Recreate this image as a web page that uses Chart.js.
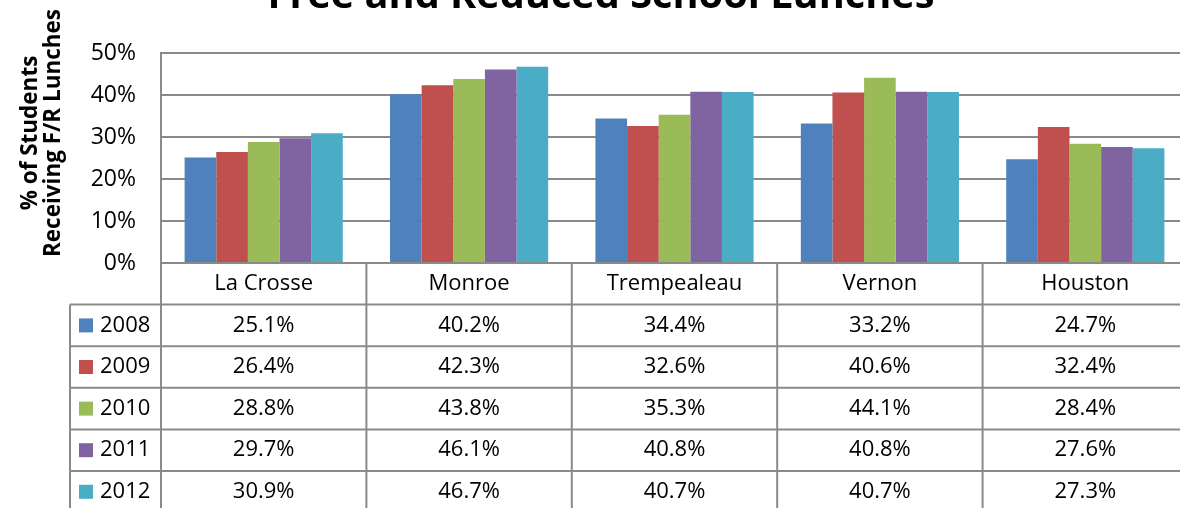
<!DOCTYPE html>
<html>
<head>
<meta charset="utf-8">
<script src="https://cdn.jsdelivr.net/npm/chart.js@4"></script>
<style>
  html, body { margin: 0; padding: 0; background: #fff; overflow: hidden; }
  #wrap { position: absolute; left: 0; top: 0; width: 1190px; height: 516px; }
</style>
</head>
<body>
<div id="wrap"><canvas id="c" width="1190" height="516"></canvas></div>
<script>
// ---- data ----
const categories = ['La Crosse', 'Monroe', 'Trempealeau', 'Vernon', 'Houston'];
const years = ['2008', '2009', '2010', '2011', '2012'];
const v2008 = [25.1, 40.2, 34.4, 33.2, 24.7];
const v2009 = [26.4, 42.3, 32.6, 40.6, 32.4];
const v2010 = [28.8, 43.8, 35.3, 44.1, 28.4];
const v2011 = [29.7, 46.1, 40.8, 40.8, 27.6];
const v2012 = [30.9, 46.7, 40.7, 40.7, 27.3];
const yTickMax = 50;
const yTickStep = 10;
const titleText = 'Free and Reduced School Lunches';
const yTitleLines = ['% of Students', 'Receiving F/R Lunches'];

// ---- styles ----
const colors = ['#4F81BD', '#C0504D', '#9BBB59', '#8064A2', '#4BACC6'];
const seriesValues = [v2008, v2009, v2010, v2011, v2012];
const FONT = '"Open Sans", sans-serif';
const GRID = '#8a8a8a';

const datasets = years.map((y, i) => ({
  label: y,
  data: seriesValues[i],
  backgroundColor: colors[i],
  borderWidth: 0,
  categoryPercentage: 0.77,
  barPercentage: 1.0
}));

function fitSize(ctx, text, weight, target) {
  ctx.font = weight + ' 20px ' + FONT;
  const w = ctx.measureText(text).width;
  return 20 * target / w;
}

const decorPlugin = {
  id: 'decor',
  afterDraw(chart) {
    const ctx = chart.ctx;
    const area = chart.chartArea;
    const xs = chart.scales.x;
    const n = categories.length;
    const colW = (area.right - area.left) / n;
    const rowH = 41.6;
    const top = area.bottom;
    const rows = years.length + 1;
    const bottom = top + rows * rowH;
    const legLeft = 70;

    ctx.save();
    // title
    const ts = fitSize(ctx, titleText, 'bold', 667);
    ctx.font = 'bold ' + ts.toFixed(2) + 'px ' + FONT;
    ctx.fillStyle = '#000';
    ctx.textAlign = 'center';
    ctx.textBaseline = 'alphabetic';
    ctx.fillText(titleText, 601, 8);

    // y axis title (rotated)
    const ys = fitSize(ctx, yTitleLines[1], 'bold', 248);
    ctx.save();
    ctx.translate(0, 133);
    ctx.rotate(-Math.PI / 2);
    ctx.font = 'bold ' + ys.toFixed(2) + 'px ' + FONT;
    ctx.textAlign = 'center';
    ctx.fillText(yTitleLines[0], 0, 37);
    ctx.fillText(yTitleLines[1], 0, 60);
    ctx.restore();

    // table lines
    ctx.strokeStyle = GRID;
    ctx.lineWidth = 2;
    ctx.beginPath();
    for (let i = 0; i <= n; i++) {
      const x = area.left + i * colW;
      ctx.moveTo(x, top);
      ctx.lineTo(x, bottom);
    }
    ctx.moveTo(legLeft, top + rowH);
    ctx.lineTo(legLeft, bottom);
    for (let r = 1; r <= rows; r++) {
      const y = top + r * rowH;
      ctx.moveTo(legLeft, y);
      ctx.lineTo(area.right, y);
    }
    ctx.stroke();

    // texts
    ctx.fillStyle = '#000';
    ctx.font = '22px ' + FONT;
    ctx.textAlign = 'center';
    ctx.textBaseline = 'middle';
    for (let i = 0; i < n; i++) {
      const cx = xs.getPixelForValue(i);
      ctx.fillText(categories[i], cx, top + rowH / 2);
    }
    for (let s = 0; s < years.length; s++) {
      const cy = top + (s + 1) * rowH + rowH / 2;
      for (let i = 0; i < n; i++) {
        const cx = xs.getPixelForValue(i);
        ctx.textAlign = 'center';
        ctx.fillText(seriesValues[s][i].toFixed(1) + '%', cx, cy);
      }
      ctx.fillStyle = colors[s];
      ctx.fillRect(79, cy - 7, 14, 14);
      ctx.fillStyle = '#000';
      ctx.textAlign = 'left';
      ctx.fillText(years[s], 100, cy);
    }
    ctx.restore();
  }
};

function build() {
  new Chart(document.getElementById('c'), {
    type: 'bar',
    data: { labels: categories, datasets },
    options: {
      responsive: false,
      animation: false,
      layout: { padding: { left: 0, top: 53, right: 2, bottom: 516 - 263 } },
      plugins: { legend: { display: false }, title: { display: false }, tooltip: { enabled: false } },
      scales: {
        x: { display: false },
        y: {
          min: 0,
          max: yTickMax,
          ticks: {
            stepSize: yTickStep,
            padding: 25,
            color: '#000',
            font: { family: FONT, size: 23 },
            callback: v => v + '%'
          },
          grid: { color: GRID, lineWidth: 2, drawTicks: false },
          border: { display: true, color: GRID, width: 2 },
          afterFit(scale) { scale.width = 161; }
        }
      }
    },
    plugins: [decorPlugin]
  });
}

Promise.all([
  document.fonts.load('22px "Open Sans"'),
  document.fonts.load('bold 22px "Open Sans"')
]).then(build, build);
</script>
</body>
</html>
